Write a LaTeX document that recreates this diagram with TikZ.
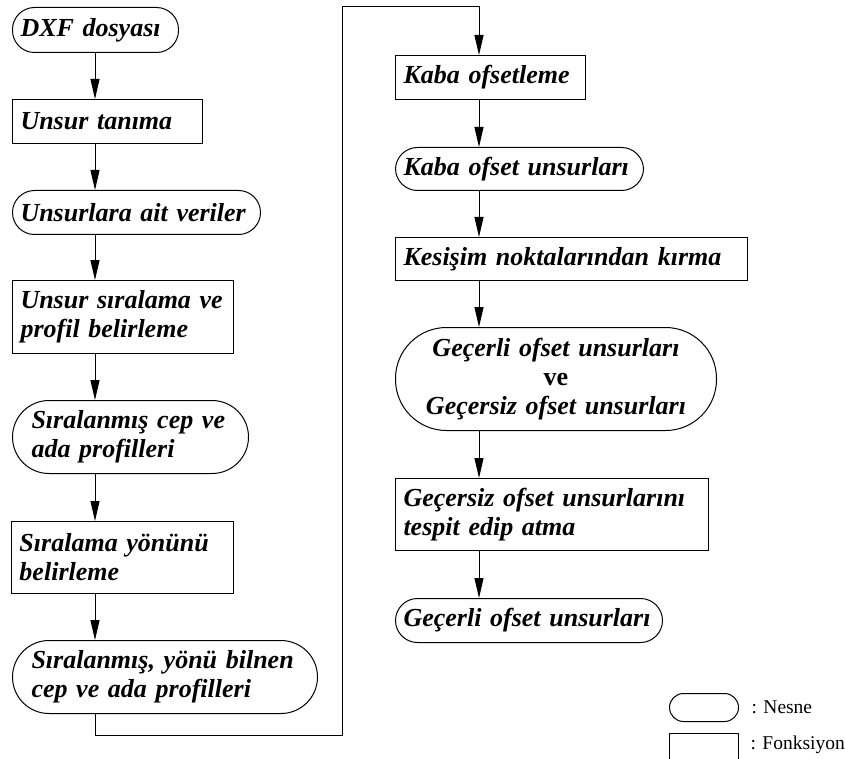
\documentclass[tikz,border=0pt]{standalone}
\usepackage{fontspec}
\setmainfont{Liberation Serif}
\usetikzlibrary{arrows.meta, positioning}

\begin{document}
\begin{tikzpicture}[x=1pt, y=-1pt, >={Triangle[length=20pt, width=9pt]}, line width=1pt,
    kutu/.style={draw, anchor=north west, align=left, inner xsep=8pt, inner ysep=0pt, font=\bfseries\itshape\fontsize{26}{29}\selectfont},
    fonksiyon/.style={kutu},
    nesne/.style={kutu, rounded corners=#1}, nesne/.default=22pt]
  \useasboundingbox (0,0) rectangle (845,759);
  % sol sutun
  \node[nesne, text width=150pt, minimum height=45pt] (dxf) at (12,7) {DXF dosyası};
  \node[fonksiyon, text width=174pt, minimum height=44pt] (tanima) at (12,99) {Unsur tanıma};
  \node[nesne, text width=232pt, minimum height=44pt] (veriler) at (12,190) {Unsurlara ait veriler};
  \node[fonksiyon, text width=205pt, minimum height=73pt] (siralama) at (12,280) {Unsur sıralama ve\\profil belirleme};
  \node[nesne=36.5pt, inner xsep=19pt, text width=198pt, minimum height=73pt] (profiller) at (12,400) {Sıralanmış cep ve\\ada profilleri};
  \node[fonksiyon, text width=206pt, minimum height=72pt] (yon) at (11,521) {Sıralama yönünü\\belirleme};
  \node[nesne=36.5pt, inner xsep=19pt, text width=267pt, minimum height=73pt] (yonlu) at (12,640) {Sıralanmış, yönü bilnen\\cep ve ada profilleri};
  % sag sutun
  \node[fonksiyon, text width=174pt, minimum height=44pt] (kaba) at (395,55) {Kaba ofsetleme};
  \node[nesne, text width=232pt, minimum height=43pt] (kabaunsur) at (395,147) {Kaba ofset unsurları};
  \node[fonksiyon, text width=336pt, minimum height=43pt] (kesisim) at (395,237) {Kesişim noktalarından kırma};
  \node[nesne=51pt, align=center, text width=305pt, minimum height=103pt] (ikiunsur) at (395,327) {Geçerli ofset unsurları\\{\upshape ve}\\Geçersiz ofset unsurları};
  \node[fonksiyon, text width=297pt, minimum height=72pt] (atma) at (395,478) {Geçersiz ofset unsurlarını\\tespit edip atma};
  \node[nesne, text width=251pt, minimum height=44pt] (son) at (395,598) {Geçerli ofset unsurları};
  % ok hatlari
  \coordinate (solhat) at (95,0);
  \coordinate (saghat) at (479,0);
  \coordinate (altkose) at (342,735);
  \coordinate (ustkose) at (342,7);
  \draw[->] (dxf.south -| solhat) -- (tanima.north -| solhat);
  \draw[->] (tanima.south -| solhat) -- (veriler.north -| solhat);
  \draw[->] (veriler.south -| solhat) -- (siralama.north -| solhat);
  \draw[->] (siralama.south -| solhat) -- (profiller.north -| solhat);
  \draw[->] (profiller.south -| solhat) -- (yon.north -| solhat);
  \draw[->] (yon.south -| solhat) -- (yonlu.north -| solhat);
  \draw[->] (yonlu.south -| solhat) |- (altkose) -- (ustkose) -| (kaba.north -| saghat);
  \draw[->] (kaba.south -| saghat) -- (kabaunsur.north -| saghat);
  \draw[->] (kabaunsur.south -| saghat) -- (kesisim.north -| saghat);
  \draw[->] (kesisim.south -| saghat) -- (ikiunsur.north -| saghat);
  \draw[->] (ikiunsur.south -| saghat) -- (atma.north -| saghat);
  \draw[->] (atma.south -| saghat) -- (son.north -| saghat);
  % aciklama
  \node[draw, rounded corners=14pt, anchor=north west, minimum width=69pt, minimum height=28pt] (lnesne) at (669,693) {};
  \node[draw, anchor=north west, minimum width=69pt, minimum height=34pt] (lfonk) at (669,733) {};
  \node[right=12pt of lnesne, inner sep=0pt, font=\fontsize{19.5}{22}\selectfont] (lnesneyazi) {: Nesne};
  \node[anchor=west, inner sep=0pt, font=\fontsize{19.5}{22}\selectfont] (lfonkyazi) at (750,745) {: Fonksiyon};
\end{tikzpicture}
\end{document}
